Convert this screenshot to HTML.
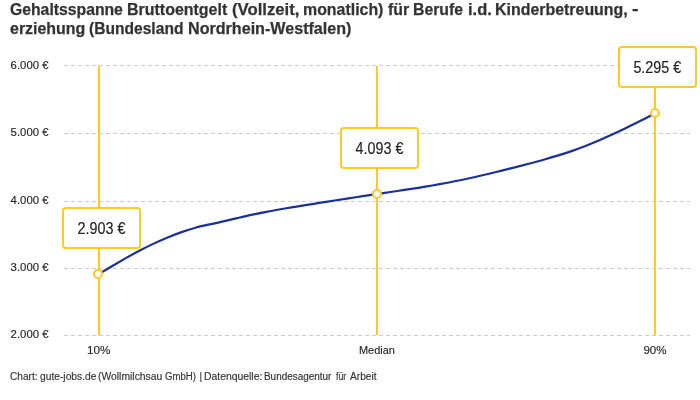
<!DOCTYPE html>
<html lang="de">
<head>
<meta charset="utf-8">
<title>Gehaltsspanne Bruttoentgelt</title>
<style>
html,body{margin:0;padding:0;background:#fff;}
body{width:700px;height:400px;position:relative;overflow:hidden;font-family:"Liberation Sans",sans-serif;color:#333;}
.title{position:absolute;left:0;top:0;width:700px;height:40px;margin:0;font-weight:bold;font-size:16px;line-height:19px;color:#333;-webkit-text-stroke:0.25px #333;}
.w{position:absolute;white-space:nowrap;transform-origin:0 0;}
svg{position:absolute;left:0;top:0;will-change:transform;}
.title,.foot{will-change:transform;}
.foot{position:absolute;left:0;top:371px;width:700px;height:14px;font-size:10px;line-height:11px;color:#333;-webkit-text-stroke:0.15px #333;}
</style>
</head>
<body>
<h1 class="title"><span class="w" style="left:9.91px;top:-0.2px;transform:scaleX(0.9841)">Gehaltsspanne</span> <span class="w" style="left:127.2px;top:-0.2px;transform:scaleX(0.998)">Bruttoentgelt</span> <span class="w" style="left:232.47px;top:-0.2px;transform:scaleX(1.0438)">(Vollzeit,</span> <span class="w" style="left:302.71px;top:-0.2px;transform:scaleX(0.9942)">monatlich)</span> <span class="w" style="left:387.8px;top:-0.2px;transform:scaleX(0.9951)">für</span> <span class="w" style="left:413.01px;top:-0.2px;transform:scaleX(0.9861)">Berufe</span> <span class="w" style="left:467.77px;top:-0.2px;transform:scaleX(1.0303)">i.d.</span> <span class="w" style="left:495.3px;top:-0.2px;transform:scaleX(0.9955)">Kinderbetreuung,</span> <span class="w" style="left:631.87px;top:-1.1px;transform:scaleX(1.2195)">-</span>
<span class="w" style="left:9.9px;top:18.8px;transform:scaleX(0.9974)">erziehung</span> <span class="w" style="left:88.92px;top:18.8px;transform:scaleX(0.9746)">(Bundesland</span> <span class="w" style="left:188.29px;top:18.8px;transform:scaleX(1.0065)">Nordrhein-Westfalen)</span></h1>
<svg width="700" height="400" viewBox="0 0 700 400" font-family="Liberation Sans, sans-serif">
  <g stroke="#cccccc" stroke-width="1" stroke-dasharray="4,3" fill="none">
    <line x1="64" y1="65.500" x2="690" y2="65.500"/>
    <line x1="64" y1="133.5" x2="690" y2="133.5"/>
    <line x1="64" y1="201.5" x2="690" y2="201.5"/>
    <line x1="64" y1="268.5" x2="690" y2="268.5"/>
    <line x1="64" y1="335.5" x2="690" y2="335.5"/>
  </g>
  <g font-size="11" fill="#262626" stroke="#262626" stroke-width="0.15" class="yl">
    <text x="10.6" y="69" textLength="37.9" lengthAdjust="spacingAndGlyphs">6.000 €</text>
    <text x="10.6" y="136" textLength="37.9" lengthAdjust="spacingAndGlyphs">5.000 €</text>
    <text x="10.6" y="204" textLength="37.9" lengthAdjust="spacingAndGlyphs">4.000 €</text>
    <text x="10.6" y="271" textLength="37.9" lengthAdjust="spacingAndGlyphs">3.000 €</text>
    <text x="10.6" y="338" textLength="37.9" lengthAdjust="spacingAndGlyphs">2.000 €</text>
  </g>
  <g font-size="11" fill="#262626" stroke="#262626" stroke-width="0.15" text-anchor="middle" class="xl">
    <text transform="translate(98.8,353.800) scale(1.07,1)">10%</text>
    <text transform="translate(376.900,353.800) scale(0.995,1)">Median</text>
    <text transform="translate(655,353.800) scale(1.05,1)">90%</text>
  </g>
  <g stroke="#ffc92a" stroke-width="2" fill="none">
    <line x1="99" y1="66" x2="99" y2="335"/>
    <line x1="377" y1="66" x2="377" y2="335"/>
    <line x1="655" y1="66" x2="655" y2="335"/>
  </g>
  <path d="M98.0,274.50 C102.6,271.76 107.3,268.99 111.9,266.24 C116.6,263.50 121.2,260.78 125.8,258.14 C130.5,255.50 135.1,252.95 139.8,250.53 C144.4,248.11 149.1,245.81 153.7,243.63 C158.3,241.46 163.0,239.41 167.6,237.48 C172.3,235.56 176.9,233.76 181.6,232.13 C186.2,230.50 190.8,229.02 195.5,227.75 C200.1,226.47 204.8,225.44 209.4,224.44 C214.0,223.44 218.7,222.43 223.3,221.35 C228.0,220.28 232.6,219.17 237.2,218.07 C241.9,216.98 246.5,215.90 251.2,214.90 C255.8,213.89 260.5,212.94 265.1,212.05 C269.7,211.15 274.4,210.31 279.0,209.50 C283.7,208.68 288.3,207.90 293.0,207.14 C297.6,206.38 302.2,205.64 306.9,204.91 C311.5,204.17 316.2,203.43 320.8,202.70 C325.4,201.97 330.1,201.23 334.7,200.50 C339.4,199.77 344.0,199.05 348.6,198.33 C353.3,197.61 357.9,196.89 362.6,196.18 C367.2,195.48 371.9,194.77 376.5,194.08 C381.1,193.39 385.8,192.70 390.4,192.02 C395.1,191.33 399.7,190.64 404.4,189.94 C409.0,189.24 413.6,188.53 418.3,187.79 C422.9,187.05 427.6,186.29 432.2,185.50 C436.8,184.70 441.5,183.87 446.1,183.00 C450.8,182.13 455.4,181.20 460.1,180.24 C464.7,179.27 469.3,178.27 474.0,177.22 C478.6,176.18 483.3,175.10 487.9,174.00 C492.5,172.89 497.2,171.76 501.8,170.61 C506.5,169.45 511.1,168.28 515.8,167.10 C520.4,165.92 525.0,164.72 529.7,163.51 C534.3,162.29 539.0,161.05 543.6,159.75 C548.2,158.45 552.9,157.10 557.5,155.67 C562.2,154.24 566.8,152.74 571.5,151.12 C576.1,149.51 580.7,147.79 585.4,145.96 C590.0,144.14 594.7,142.22 599.3,140.22 C603.9,138.23 608.6,136.15 613.2,134.02 C617.9,131.89 622.5,129.70 627.1,127.46 C631.8,125.21 636.4,122.90 641.1,120.53 C645.7,118.16 650.4,115.72 655.0,113.21" stroke="#1b3098" stroke-width="2.2" fill="none"/>
  <g stroke="#ffc92a" stroke-width="2" fill="#fff">
    <rect x="63" y="208" width="77" height="40" rx="3"/>
    <rect x="341" y="128" width="77" height="40" rx="3"/>
    <rect x="619" y="47" width="77" height="40" rx="3"/>
    <circle cx="98" cy="273.900" r="4"/>
    <circle cx="377" cy="193.900" r="4"/>
    <circle cx="655" cy="113" r="4"/>
  </g>
  <g font-size="15.9" fill="#222" stroke="#222" stroke-width="0.15" text-anchor="middle" class="bl">
    <text transform="translate(101.5,233.700) scale(0.903,1)">2.903 €</text>
    <text transform="translate(379.5,153.700) scale(0.903,1)">4.093 €</text>
    <text transform="translate(657.300,72.700) scale(0.903,1)">5.295 €</text>
  </g>
</svg>
<div class="foot"><span class="w" style="left:9.89px;top:0px;transform:scaleX(1.0134)">Chart:</span> <span class="w" style="left:39.59px;top:0px;transform:scaleX(1.0244)">gute-jobs.de</span> <span class="w" style="left:98.38px;top:0px;transform:scaleX(1.0364)">(Wollmilchsau</span> <span class="w" style="left:165.12px;top:0px;transform:scaleX(0.9618)">GmbH)</span> <span class="w" style="left:199.5px;top:0px;transform:scaleX(1.0)">|</span> <span class="w" style="left:204.17px;top:0px;transform:scaleX(1.039)">Datenquelle:</span> <span class="w" style="left:264.21px;top:0px;transform:scaleX(0.9925)">Bundesagentur</span> <span class="w" style="left:335.51px;top:0px;transform:scaleX(0.8741)">für</span> <span class="w" style="left:350.0px;top:0px;transform:scaleX(1.0174)">Arbeit</span></div>
</body>
</html>
